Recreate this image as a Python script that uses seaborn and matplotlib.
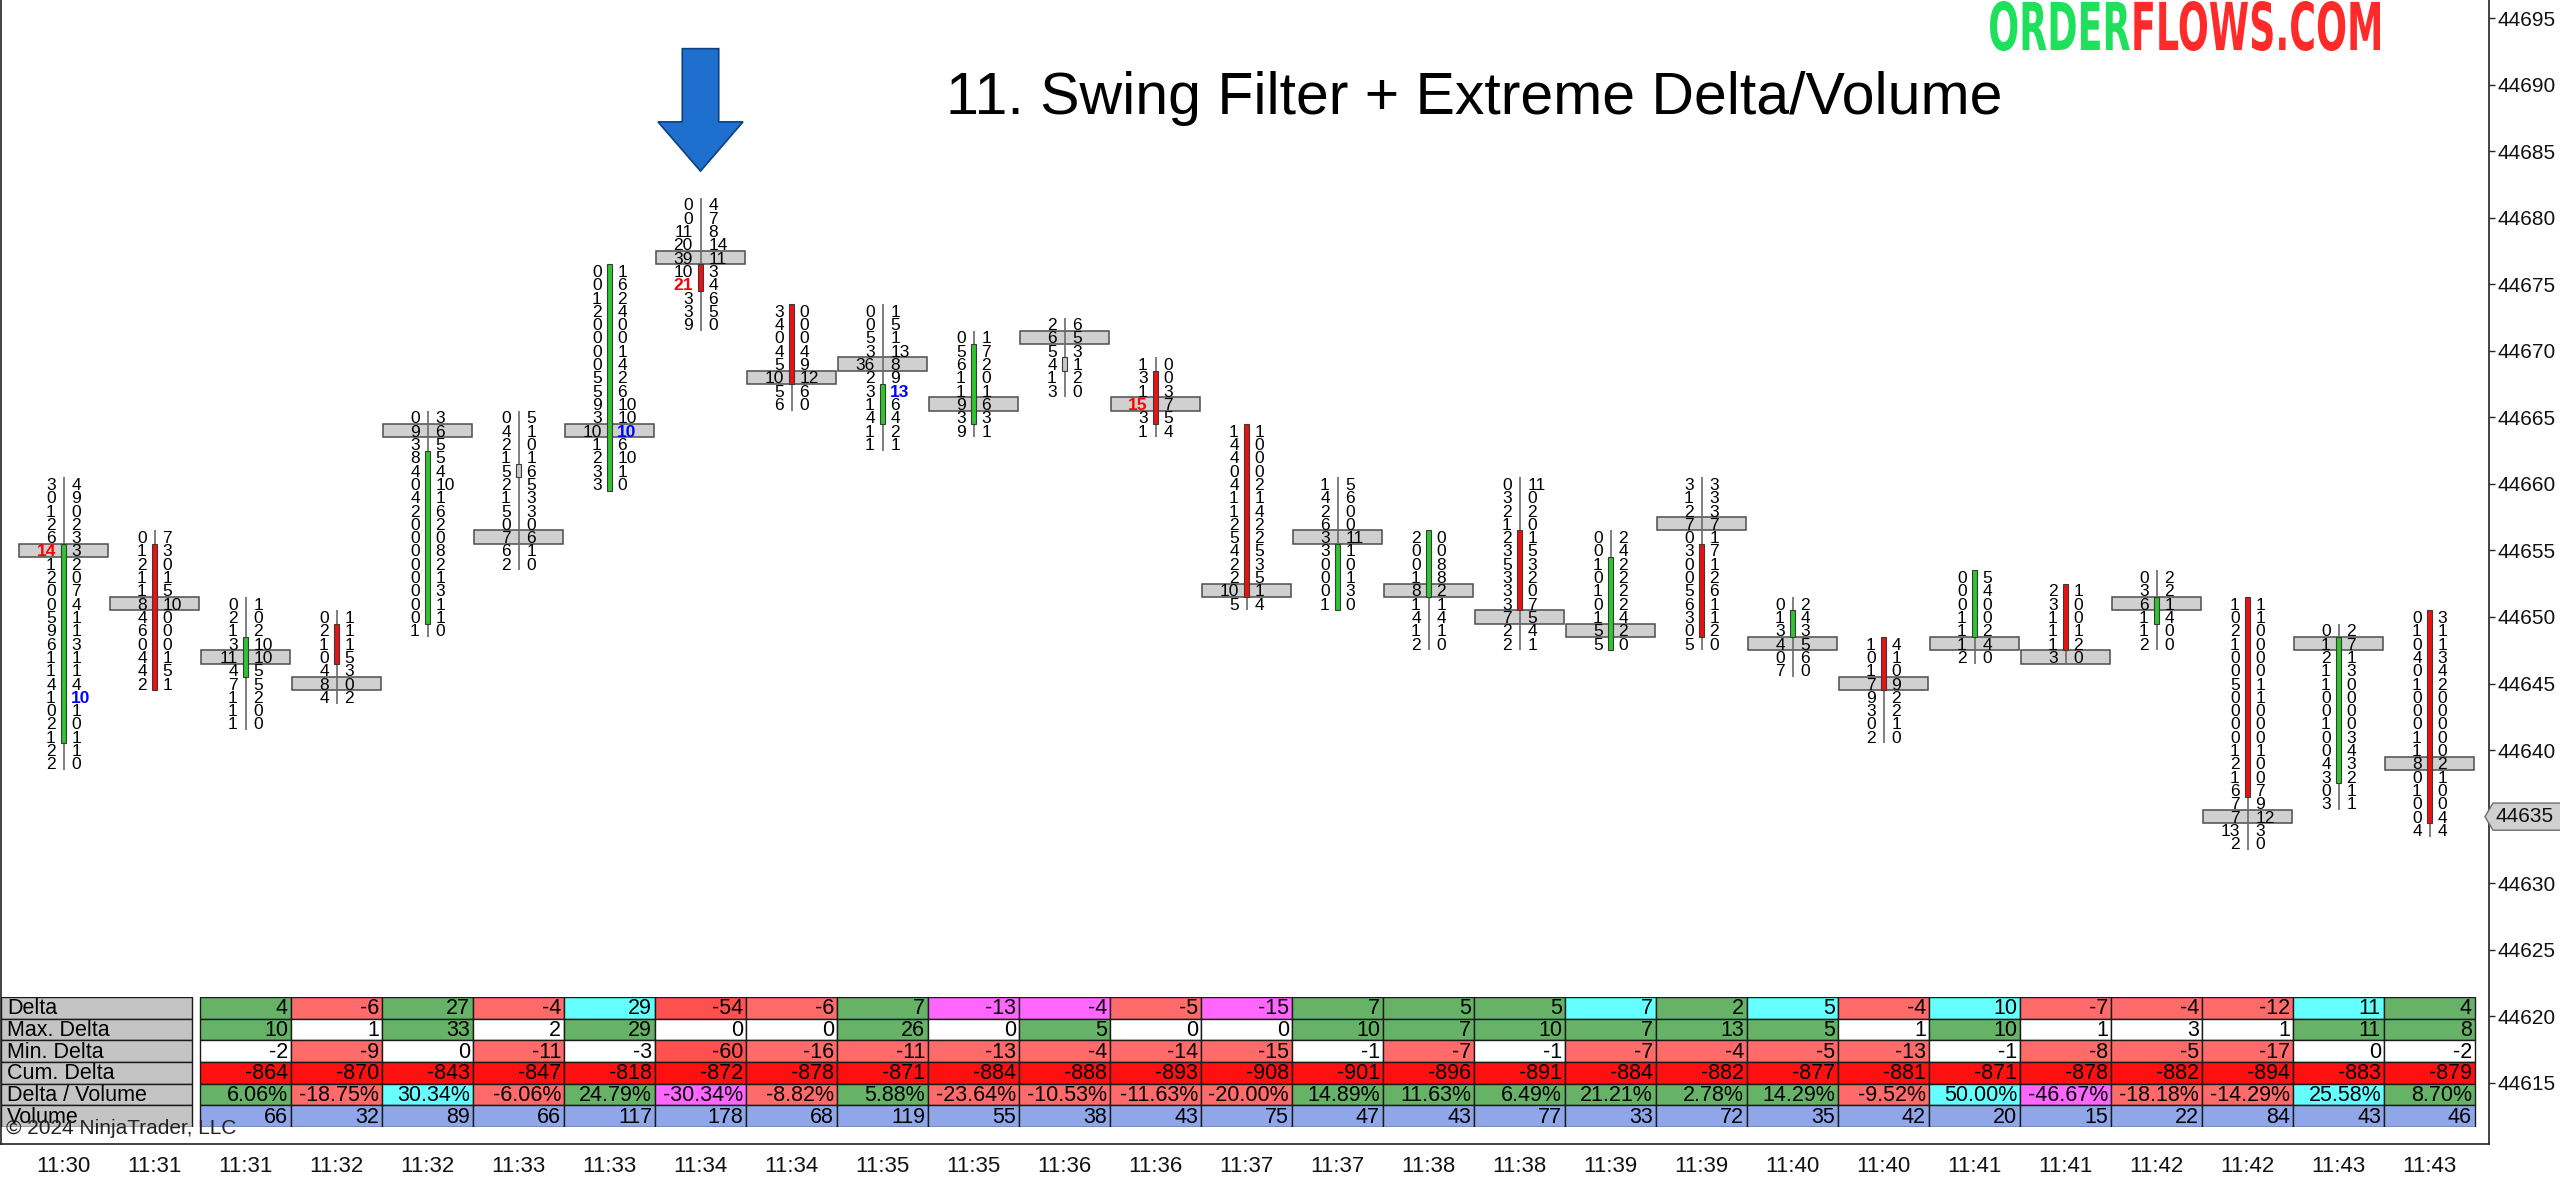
import numpy as np
import pandas as pd
import matplotlib
matplotlib.use("Agg")
import matplotlib.pyplot as plt
import seaborn as sns
from matplotlib.patches import Rectangle, Polygon, PathPatch
from matplotlib.textpath import TextPath
from matplotlib.font_manager import FontProperties
import matplotlib.transforms as mtransforms

# ---------------- data ----------------
times = ["11:30", "11:31", "11:31", "11:32", "11:32", "11:33", "11:33", "11:34", "11:34",
         "11:35", "11:35", "11:36", "11:36", "11:37", "11:37", "11:38", "11:38", "11:39",
         "11:39", "11:40", "11:40", "11:41", "11:41", "11:42", "11:42", "11:43", "11:43"]
highs = [44660, 44656, 44651, 44650, 44665, 44665, 44676, 44681, 44673, 44673, 44671, 44672,
         44669, 44664, 44660, 44656, 44660, 44656, 44660, 44651, 44648, 44653, 44652, 44653,
         44651, 44649, 44650]
opens = [44641, 44655, 44646, 44649, 44650, 44661, 44660, 44676, 44673, 44665, 44665, 44669,
         44668, 44664, 44651, 44652, 44656, 44648, 44655, 44649, 44648, 44649, 44652, 44650,
         44651, 44638, 44650]
closes = [44655, 44645, 44648, 44647, 44662, 44661, 44676, 44675, 44668, 44667, 44670, 44669,
          44665, 44652, 44655, 44656, 44651, 44654, 44649, 44650, 44645, 44653, 44648, 44651,
          44637, 44648, 44635]
pocs = [44655, 44651, 44647, 44645, 44664, 44656, 44664, 44677, 44668, 44669, 44666, 44671,
        44666, 44652, 44656, 44652, 44650, 44649, 44657, 44648, 44645, 44648, 44647, 44651,
        44635, 44648, 44639]
# bid / ask volume per price level, from the bar high downwards
bids = [
    [3, 0, 1, 2, 6, 14, 1, 2, 0, 0, 5, 9, 6, 1, 1, 4, 1, 0, 2, 1, 2, 2],
    [0, 1, 2, 1, 1, 8, 4, 6, 0, 4, 4, 2],
    [0, 2, 1, 3, 11, 4, 7, 1, 1, 1],
    [0, 2, 1, 0, 4, 8, 4],
    [0, 9, 3, 8, 4, 0, 4, 2, 0, 0, 0, 0, 0, 0, 0, 0, 1],
    [0, 4, 2, 1, 5, 2, 1, 5, 0, 7, 6, 2],
    [0, 0, 1, 2, 0, 0, 0, 0, 5, 5, 9, 3, 10, 1, 2, 3, 3],
    [0, 0, 11, 20, 39, 10, 21, 3, 3, 9],
    [3, 4, 0, 4, 5, 10, 5, 6],
    [0, 0, 5, 3, 36, 2, 3, 1, 4, 1, 1],
    [0, 5, 6, 1, 1, 9, 3, 9],
    [2, 6, 5, 4, 1, 3],
    [1, 3, 1, 15, 3, 1],
    [1, 4, 4, 0, 4, 1, 1, 2, 5, 4, 2, 2, 10, 5],
    [1, 4, 2, 6, 3, 3, 0, 0, 0, 1],
    [2, 0, 0, 1, 8, 1, 4, 1, 2],
    [0, 3, 2, 1, 2, 3, 5, 3, 3, 3, 7, 2, 2],
    [0, 0, 1, 0, 1, 0, 1, 5, 5],
    [3, 1, 2, 7, 0, 3, 0, 0, 5, 6, 3, 0, 5],
    [0, 1, 3, 4, 0, 7],
    [1, 0, 1, 7, 9, 3, 0, 2],
    [0, 0, 0, 1, 1, 1, 2],
    [2, 3, 1, 1, 1, 3],
    [0, 3, 6, 1, 1, 2],
    [1, 0, 2, 1, 0, 0, 5, 0, 0, 0, 0, 1, 2, 1, 6, 7, 7, 13, 2],
    [0, 1, 2, 1, 1, 0, 0, 1, 0, 0, 4, 3, 0, 3],
    [0, 1, 0, 4, 0, 1, 0, 0, 0, 1, 1, 8, 0, 1, 0, 0, 4],
]
asks = [
    [4, 9, 0, 2, 3, 3, 2, 0, 7, 4, 1, 1, 3, 1, 1, 4, 10, 1, 0, 1, 1, 0],
    [7, 3, 0, 1, 5, 10, 0, 0, 0, 1, 5, 1],
    [1, 0, 2, 10, 10, 5, 5, 2, 0, 0],
    [1, 1, 1, 5, 3, 0, 2],
    [3, 6, 5, 5, 4, 10, 1, 6, 2, 0, 8, 2, 1, 3, 1, 1, 0],
    [5, 1, 0, 1, 6, 5, 3, 3, 0, 6, 1, 0],
    [1, 6, 2, 4, 0, 0, 1, 4, 2, 6, 10, 10, 10, 6, 10, 1, 0],
    [4, 7, 8, 14, 11, 3, 4, 6, 5, 0],
    [0, 0, 0, 4, 9, 12, 6, 0],
    [1, 5, 1, 13, 8, 9, 13, 6, 4, 2, 1],
    [1, 7, 2, 0, 1, 6, 3, 1],
    [6, 5, 3, 1, 2, 0],
    [0, 0, 3, 7, 5, 4],
    [1, 0, 0, 0, 2, 1, 4, 2, 2, 5, 3, 5, 1, 4],
    [5, 6, 0, 0, 11, 1, 0, 1, 3, 0],
    [0, 0, 8, 8, 2, 1, 4, 1, 0],
    [11, 0, 2, 0, 1, 5, 3, 2, 0, 7, 5, 4, 1],
    [2, 4, 2, 2, 2, 2, 4, 2, 0],
    [3, 3, 3, 7, 1, 7, 1, 2, 6, 1, 1, 2, 0],
    [2, 4, 3, 5, 6, 0],
    [4, 1, 0, 9, 2, 2, 1, 0],
    [5, 4, 0, 0, 2, 4, 0],
    [1, 0, 0, 1, 2, 0],
    [2, 2, 1, 4, 0, 0],
    [1, 1, 0, 0, 0, 0, 1, 1, 0, 0, 0, 1, 0, 0, 7, 9, 12, 3, 0],
    [2, 7, 1, 3, 0, 0, 0, 0, 3, 4, 3, 2, 1, 1],
    [3, 1, 1, 3, 4, 2, 0, 0, 0, 0, 0, 2, 1, 0, 0, 4, 4],
]
extreme_bid = [(0, 44655), (7, 44675), (12, 44666)]
extreme_ask = [(0, 44644), (6, 44664), (9, 44667)]
signal_bar = 7

table_first_bar = 2
row_labels = ["Delta", "Max. Delta", "Min. Delta", "Cum. Delta", "Delta / Volume", "Volume"]
tbl_delta = [4, -6, 27, -4, 29, -54, -6, 7, -13, -4, -5, -15, 7, 5, 5, 7, 2, 5, -4, 10, -7, -4, -12, 11, 4]
tbl_delta_extreme = [False, False, False, False, True, False, False, False, True, True, False, True,
                     False, False, False, True, False, True, False, True, False, False, False, True, False]
tbl_max_delta = [10, 1, 33, 2, 29, 0, 0, 26, 0, 5, 0, 0, 10, 7, 10, 7, 13, 5, 1, 10, 1, 3, 1, 11, 8]
tbl_min_delta = [-2, -9, 0, -11, -3, -60, -16, -11, -13, -4, -14, -15, -1, -7, -1, -7, -4, -5, -13, -1,
                 -8, -5, -17, 0, -2]
tbl_cum_delta = [-864, -870, -843, -847, -818, -872, -878, -871, -884, -888, -893, -908, -901, -896,
                 -891, -884, -882, -877, -881, -871, -878, -882, -894, -883, -879]
tbl_delta_vol = [6.06, -18.75, 30.34, -6.06, 24.79, -30.34, -8.82, 5.88, -23.64, -10.53, -11.63, -20.00,
                 14.89, 11.63, 6.49, 21.21, 2.78, 14.29, -9.52, 50.00, -46.67, -18.18, -14.29, 25.58, 8.70]
tbl_volume = [66, 32, 89, 66, 117, 178, 68, 119, 55, 38, 43, 75, 47, 43, 77, 33, 72, 35, 42, 20, 15, 22,
              84, 43, 46]
price_ticks = list(range(44615, 44700, 5))
last_price = 44635
title_text = "11. Swing Filter + Extreme Delta/Volume"
copyright_text = "\u00a9 2024 NinjaTrader, LLC"

# ---------------- style ----------------
sns.set_theme(style="white")
plt.rcParams["font.family"] = ["Liberation Sans", "DejaVu Sans"]

W, H = 2560, 1182
fig = plt.figure(figsize=(W / 100, H / 100), dpi=100)
fig.patch.set_facecolor("white")

AX_RIGHT_PX = 2489
AX_BOTTOM_PX = 1144
BAR0_PX = 63.5
BAR_PX = 91.0
ROW_PX = 13.31
PRICE_REF, PRICE_REF_PX = 44650, 617

ax = fig.add_axes([1 / W, 1 - AX_BOTTOM_PX / H, (AX_RIGHT_PX - 1) / W, AX_BOTTOM_PX / H])
xlim = ((1 - BAR0_PX) / BAR_PX, (AX_RIGHT_PX - BAR0_PX) / BAR_PX)
ylim = (PRICE_REF - (AX_BOTTOM_PX - PRICE_REF_PX) / ROW_PX, PRICE_REF + PRICE_REF_PX / ROW_PX)
ax.set_xlim(*xlim)
ax.set_ylim(*ylim)
ax.set_facecolor("white")

GREEN_BODY = "#2ec52e"
RED_BODY = "#ee1010"
FP_FONT = 12.5
OFF = 0.085
BW = 4.5 / BAR_PX

n = len(highs)
for i in range(n):
    b, a = bids[i], asks[i]
    hi = highs[i]
    lo = hi - len(b) + 1
    ax.add_patch(Rectangle((i - 0.493, pocs[i] - 0.5), 0.986, 1.0, facecolor="#d0d0d0",
                           edgecolor="#4d4d4d", lw=1.1, zorder=2))
    ax.plot([i, i], [lo - 0.5, hi + 0.5], color="#6a6a6a", lw=1.2, zorder=3, solid_capstyle="butt")
    o, c = opens[i], closes[i]
    col = GREEN_BODY if c > o else (RED_BODY if c < o else "#c8c8c8")
    ax.add_patch(Rectangle((i - BW / 2, min(o, c) - 0.5), BW, abs(c - o) + 1, facecolor=col,
                           edgecolor="#3a3a3a", lw=0.8, zorder=4))
    for k in range(len(b)):
        p = hi - k
        bc, bwt = ("#ff0000", "bold") if (i, p) in extreme_bid else ("black", "normal")
        acl, awt = ("#0000ff", "bold") if (i, p) in extreme_ask else ("black", "normal")
        ax.text(i - OFF, p, str(b[k]), ha="right", va="center_baseline", fontsize=FP_FONT,
                color=bc, fontweight=bwt, zorder=5)
        ax.text(i + OFF, p, str(a[k]), ha="left", va="center_baseline", fontsize=FP_FONT,
                color=acl, fontweight=awt, zorder=5)

# signal arrow above the swing high
hs = highs[signal_bar]
arrow = Polygon([(signal_bar - 0.2, hs + 11.7), (signal_bar + 0.2, hs + 11.7), (signal_bar + 0.2, hs + 6.2),
                 (signal_bar + 0.467, hs + 6.2), (signal_bar, hs + 2.5), (signal_bar - 0.467, hs + 6.2),
                 (signal_bar - 0.2, hs + 6.2)], closed=True, facecolor="#1f6fcf", edgecolor="#0f3f80",
                lw=1.2, zorder=6)
ax.add_patch(arrow)

# axes cosmetics
ax.spines["top"].set_visible(False)
for s in ["left", "bottom", "right"]:
    ax.spines[s].set_visible(True)
    ax.spines[s].set_color("#222222")
    ax.spines[s].set_linewidth(1.2)
ax.yaxis.tick_right()
ax.set_yticks(price_ticks)
ax.set_yticklabels([str(t) for t in price_ticks], fontsize=15, color="#111111")
ax.tick_params(axis="y", direction="out", length=4, width=1, pad=2, color="#222222")
ax.set_xticks(range(n))
ax.set_xticklabels(times, fontsize=16, color="#111111")
ax.tick_params(axis="x", direction="out", length=5, width=1, pad=4, color="#222222")
ax.grid(False)

# last price marker (just right of the price axis)
bt = mtransforms.blended_transform_factory(ax.transAxes, ax.transData)
AXW = AX_RIGHT_PX - 1
rx = lambda v: 1 + v / AXW
marker = Polygon([(rx(-4), last_price), (rx(4), last_price + 1.02), (rx(90), last_price + 1.02),
                  (rx(90), last_price - 1.02), (rx(4), last_price - 1.02)], closed=True, transform=bt,
                 facecolor="#d0d0d0", edgecolor="#6e6e6e", lw=1.0, clip_on=False, zorder=10)
ax.add_artist(marker)
ax.text(rx(6), last_price, str(last_price), transform=bt, ha="left", va="center", fontsize=15,
        color="#111111", zorder=11, clip_on=False)

# ---------------- table ----------------
TBL_TOP, TBL_BOT = 997, 1127
tax = fig.add_axes([1 / W, 1 - TBL_BOT / H, (AX_RIGHT_PX - 1) / W, (TBL_BOT - TBL_TOP) / H])
tax.set_xlim(*xlim)
tax.set_ylim(len(row_labels), 0)
tax.axis("off")
tax.patch.set_alpha(0)

C_GREEN, C_RED, C_RED2, C_CYAN, C_MAG = "#66b266", "#ff6a6a", "#ff5050", "#66ffff", "#ff66ff"
C_CUM, C_VOL, C_LAB = "#ff1010", "#8fa7e9", "#c4c4c4"
TBL_FONT = 15.5


def neg_color(v):
    return C_RED2 if abs(v) >= 40 else C_RED


rows = []
for j in range(len(tbl_delta)):
    d = tbl_delta[j]
    if d >= 0:
        cd = C_CYAN if tbl_delta_extreme[j] else C_GREEN
    else:
        cd = C_MAG if tbl_delta_extreme[j] else neg_color(d)
    mx = tbl_max_delta[j]
    cmx = C_GREEN if mx >= 5 else "white"
    mn = tbl_min_delta[j]
    cmn = neg_color(mn) if mn <= -4 else "white"
    dv = tbl_delta_vol[j]
    if dv >= 25:
        cdv = C_CYAN
    elif dv <= -25:
        cdv = C_MAG
    elif dv >= 0:
        cdv = C_GREEN
    else:
        cdv = C_RED
    rows.append([(str(d), cd), (str(mx), cmx), (str(mn), cmn), (str(tbl_cum_delta[j]), C_CUM),
                 (f"{dv:.2f}%", cdv), (str(tbl_volume[j]), C_VOL)])

for j, cells in enumerate(rows):
    i = table_first_bar + j
    for r, (txt, colr) in enumerate(cells):
        tax.add_patch(Rectangle((i - 0.5, r), 1.0, 1.0, facecolor=colr, edgecolor="#1a1a1a", lw=1.0, zorder=2))
        tax.text(i + 0.5 - 3 / BAR_PX, r + 0.55, txt, ha="right", va="center", fontsize=TBL_FONT,
                 color="black", zorder=3)

lt = mtransforms.blended_transform_factory(tax.transAxes, tax.transData)
lab_w = 191 / AXW
for r, lab in enumerate(row_labels):
    tax.add_patch(Rectangle((0, r), lab_w, 1.0, transform=lt, facecolor=C_LAB, edgecolor="#1a1a1a",
                            lw=1.0, zorder=4))
    tax.text(6 / AXW, r + 0.55, lab, transform=lt, ha="left", va="center", fontsize=TBL_FONT,
             color="black", zorder=5)

fig.text(6 / W, 1 - 1129 / H, copyright_text, ha="left", va="center", fontsize=15, color="#222222",
         zorder=20)

# ---------------- title & logo ----------------
fig.text(1474 / W, 1 - 98 / H, title_text, ha="center", va="center", fontsize=42.5, color="black")

lax = fig.add_axes([1990 / W, 1 - 51 / H, 390 / W, 50 / H])
lax.axis("off")
fp = FontProperties(family="DejaVu Sans", weight="bold")
p1 = TextPath((0, 0), "ORDER", prop=fp, size=10)
e1 = p1.get_extents()
p2 = TextPath((e1.x1 + 0.3, 0), "FLOWS.COM", prop=fp, size=10)
e2 = p2.get_extents()
lax.add_patch(PathPatch(p1, facecolor="#1fe05a", edgecolor="none"))
lax.add_patch(PathPatch(p2, facecolor="#ff2a2a", edgecolor="none"))
lax.set_xlim(e1.x0, e2.x1)
lax.set_ylim(min(e1.y0, e2.y0), max(e1.y1, e2.y1))

fig.savefig("out.png", dpi=100, facecolor="white")
